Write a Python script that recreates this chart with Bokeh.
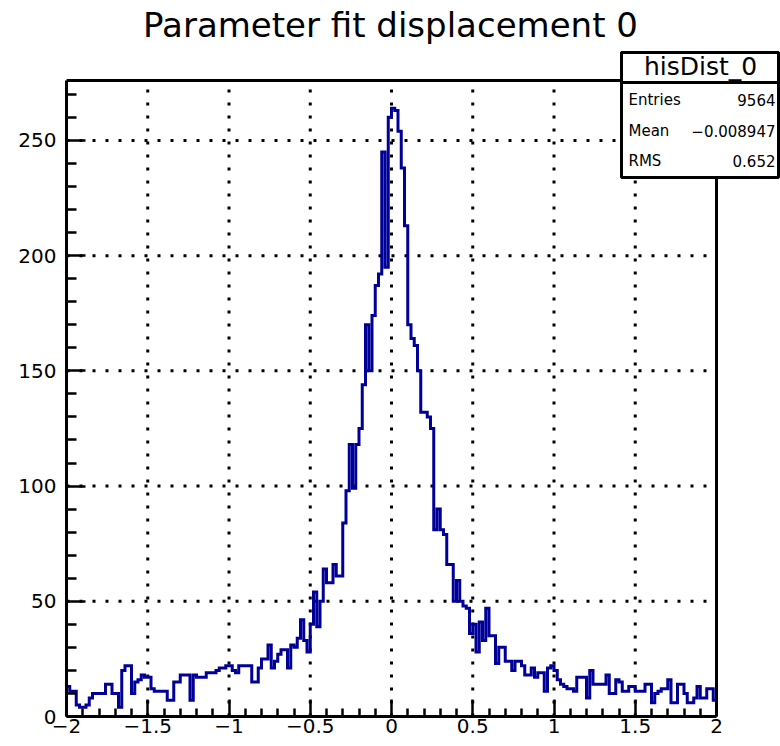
import numpy as np
from bokeh.plotting import figure
from bokeh.models import Range1d, FixedTicker, CustomJSTickFormatter, Label, BoxAnnotation
from bokeh.embed import file_html
from bokeh.resources import INLINE

# ---------------- data ----------------
title_text = "Parameter fit displacement 0"
hist_name = "hisDist_0"
stat_names = ["Entries", "Mean", "RMS"]
stat_values = ["9564", "\u22120.008947", "0.652"]

x_lo, x_hi, n_bins = -2.0, 2.0, 200
x_ticks = [-2, -1.5, -1, -0.5, 0, 0.5, 1, 1.5, 2]
y_ticks = [0, 50, 100, 150, 200, 250]

counts_left = [13, 11, 11, 5, 4, 4, 5, 8, 10, 10, 10, 10, 14, 14, 10, 10, 4, 20, 22, 22,
               10, 15, 16, 18, 17, 17, 12, 11, 11, 11, 11, 7, 7, 15, 15, 18, 18, 18, 7, 18,
               17, 17, 17, 19, 19, 19, 20, 21, 21, 22, 22, 20, 19, 22, 22, 22, 22, 15, 15, 21,
               25, 25, 31, 21, 24, 27, 29, 29, 21, 31, 30, 34]
counts_core = [42, 33, 28, 40, 54, 39, 50, 64, 58, 58, 66, 61, 61, 84, 98, 118, 99, 118,
               125, 144, 170, 150, 174, 187, 192, 245, 195, 260, 264, 263, 254, 238, 213,
               170, 164, 161, 150, 132, 132, 130, 125, 81, 90, 81, 79, 66, 66, 50, 59, 50,
               48, 47, 36, 40, 28, 41, 33, 47]
counts_right = [35, 35, 23, 30, 30, 24, 24, 20, 24, 24, 22, 18, 18, 21, 17, 19, 19, 11, 21, 22,
                20, 16, 14, 13, 12, 12, 11, 17, 17, 17, 8, 20, 14, 14, 14, 14, 18, 10, 10, 16,
                15, 11, 11, 13, 13, 11, 11, 11, 14, 14, 6, 10, 11, 12, 12, 16, 6, 6, 14, 14,
                10, 6, 6, 8, 13, 8, 8, 12, 12, 7]
counts = counts_left + counts_core + counts_right

# ---------------- layout ----------------
W, H = 780, 746
FL, FR, FT, FB = 66, 716, 80, 716      # ROOT frame in canvas pixels
Y_TOP = 276.0                          # value at the top of the ROOT frame
FONT = "DejaVu Sans"
HIST_COLOR = "#000099"
BASE_SHIFT = 0.37                      # label baseline correction (fraction of font size)

def dx(px):
    return x_lo + (px - FL) * (x_hi - x_lo) / (FR - FL)

def dy(py):
    return (FB - py) * Y_TOP / (FB - FT)

def text_at(px, py_base, text, size, align):
    return Label(x=dx(px), y=dy(py_base - BASE_SHIFT * size), text=text, text_align=align,
                 text_baseline="alphabetic", text_font=FONT, text_font_size=f"{size}px",
                 text_color="black")

# Bokeh frame covers everything right of the y axis and above the x axis,
# so that title and statistics box (outside the ROOT frame) are not clipped.
p = figure(width=W, height=H, x_range=Range1d(x_lo, dx(W)), y_range=Range1d(0, dy(0)),
           output_backend="svg", toolbar_location=None,
           min_border_left=FL, min_border_right=0,
           min_border_top=0, min_border_bottom=H - FB)
p.title.visible = False
p.background_fill_color = "white"
p.border_fill_color = "white"
p.outline_line_color = None
p.grid.visible = False

x_minor = [round(v, 2) for v in np.arange(x_lo, x_hi + 1e-9, 0.1) if round(v, 2) not in x_ticks]
y_minor = [v for v in range(10, int(Y_TOP), 10) if v not in y_ticks]

fmt = CustomJSTickFormatter(code="""
const s = Math.abs(tick).toString();
return tick < 0 ? "\u2212" + s : s;
""")

for ax, majors, minors, tin, tmin, bnds in ((p.xaxis[0], x_ticks, x_minor, 17, 8, (x_lo, x_hi)),
                                            (p.yaxis[0], y_ticks, y_minor, 19, 10, (0, Y_TOP))):
    ax.ticker = FixedTicker(ticks=majors, minor_ticks=minors)
    ax.formatter = fmt
    ax.bounds = bnds
    ax.axis_line_width = 3
    ax.axis_line_color = "black"
    ax.major_tick_in = tin
    ax.major_tick_out = 0
    ax.minor_tick_in = tmin
    ax.minor_tick_out = 0
    ax.major_tick_line_width = 2.5
    ax.minor_tick_line_width = 2.5
    ax.major_tick_line_color = "black"
    ax.minor_tick_line_color = "black"
    ax.major_label_text_font = FONT
    ax.major_label_text_font_size = "20px"
    ax.major_label_text_color = "black"
p.xaxis.major_label_standoff = 2
p.yaxis.major_label_standoff = 10

# dotted grid at the major ticks, inside the ROOT frame
gx = [t for t in x_ticks if x_lo < t < x_hi]
gy = [t for t in y_ticks if 0 < t < Y_TOP]
p.segment(x0=gx, x1=gx, y0=[0] * len(gx), y1=[Y_TOP] * len(gx),
          line_color="black", line_width=3, line_dash="3 10")
p.segment(x0=[x_lo] * len(gy), x1=[x_hi] * len(gy), y0=gy, y1=gy,
          line_color="black", line_width=3, line_dash="3 10")

# ROOT frame (top and right edges; left/bottom are the axes)
p.quad(left=[x_lo], right=[x_hi], bottom=[0], top=[Y_TOP],
       fill_color=None, line_color="black", line_width=3)

# histogram
edges = np.linspace(x_lo, x_hi, n_bins + 1)
step_y = list(counts) + [counts[-1]]
p.step(x=edges, y=step_y, mode="after", line_color=HIST_COLOR, line_width=3, line_join="miter")

# title
p.add_layout(text_at(390, 37, title_text, 34, "center"))

# statistics box
box_l, box_r, box_t, box_sep, box_b = 621, 778, 52, 82, 177
p.add_layout(BoxAnnotation(left=dx(box_l), right=dx(box_r), top=dy(box_t), bottom=dy(box_b),
                           fill_color="white", fill_alpha=1.0, line_color="black",
                           line_width=3, line_alpha=1.0))
p.add_layout(BoxAnnotation(left=dx(box_l), right=dx(box_r), top=dy(box_t), bottom=dy(box_sep),
                           fill_color="white", fill_alpha=1.0, line_color="black",
                           line_width=3, line_alpha=1.0))
p.add_layout(text_at(700, 75, hist_name, 25, "center"))
row_base = [105.5, 136.5, 166.5]
for name, val, yb in zip(stat_names, stat_values, row_base):
    p.add_layout(text_at(628, yb, name, 15, "left"))
    p.add_layout(text_at(775, yb, val, 15, "right"))

with open("out.html", "w", encoding="utf-8") as f:
    f.write(file_html(p, INLINE))
